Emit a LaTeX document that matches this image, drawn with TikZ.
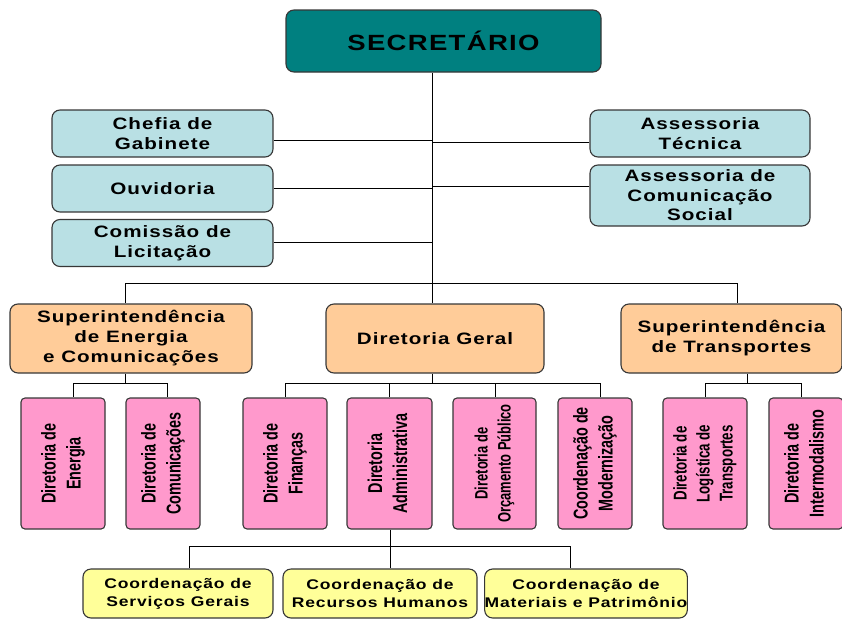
\documentclass[tikz,border=0pt]{standalone}
\usepackage{fontspec}
\newfontfamily\boxfont[FakeStretch=1.25,LetterSpace=6]{Liberation Sans}
\newfontfamily\pinkfont[FakeStretch=0.72]{Liberation Sans}

\definecolor{secteal}{RGB}{0,128,128}
\definecolor{staffblue}{RGB}{185,224,228}
\definecolor{supeorange}{RGB}{255,204,153}
\definecolor{dirpink}{RGB}{255,153,204}
\definecolor{coordyellow}{RGB}{255,255,153}
\definecolor{boxline}{RGB}{55,55,55}

% vertical (rotated) label for the pink boxes
\newcommand{\vlabel}[1]{\rotatebox{90}{\begin{tabular}{@{}c@{}}#1\end{tabular}}}

\begin{document}
\begin{tikzpicture}[x=1pt,y=-1pt,
    orgbox/.style={draw=boxline, line width=1.1pt, rounded corners=8pt, inner sep=0pt, align=center,
        font=\boxfont\bfseries\fontsize{16.5}{19.5}\selectfont},
    secbox/.style={orgbox, fill=secteal, minimum width=315pt, minimum height=62pt,
        font=\boxfont\bfseries\fontsize{22}{26}\selectfont},
    staffbox/.style={orgbox, fill=staffblue, minimum width=221pt, minimum height=47pt},
    supebox/.style={orgbox, fill=supeorange, minimum height=69pt,
        font=\boxfont\bfseries\fontsize{16.5}{20}\selectfont},
    dirbox/.style={draw=boxline, line width=1.1pt, rounded corners=4pt, inner sep=0pt, fill=dirpink,
        minimum width=84pt, minimum height=131pt, font=\pinkfont\bfseries\fontsize{20}{25}\selectfont},
    coordbox/.style={orgbox, fill=coordyellow, minimum height=49pt,
        font=\boxfont\bfseries\fontsize{14}{18}\selectfont},
    conn/.style={line width=1pt, black}]

    \useasboundingbox (0,0) rectangle (842,621);

	% Secretary and staff
	\node[secbox] (sec) at (443.5,41) {SECRETÁRIO};
	\node[staffbox] (chefia) at (162.5,133.5) {Chefia de\\Gabinete};
	\node[staffbox] (ouvid) at (162.5,188.5) {Ouvidoria};
	\node[staffbox] (licit) at (162.5,243) {Comissão de\\Licitação};
	\node[staffbox, minimum width=220pt] (asstec) at (700,133.5) {Assessoria\\Técnica};
	\node[staffbox, minimum width=220pt, minimum height=61pt] (asscom) at (700,195.5) {Assessoria de\\Comunicação\\Social};

	% Second level
	\node[supebox, minimum width=242pt] (supEC) at (131,338.5) {Superintendência\\de Energia\\e Comunicações};
	\node[supebox, minimum width=218pt] (dirG) at (435,338.5) {Diretoria Geral};
	\node[supebox, minimum width=221pt] (supT) at (731.5,338.5) {Superintendência\\de Transportes};

	% Directorates
	\node[dirbox] (dEnergia) at (63,463.5) {\vlabel{Diretoria de\\Energia}};
	\node[dirbox, minimum width=74pt] (dComunic) at (163,463.5) {\vlabel{Diretoria de\\Comunicações}};
	\node[dirbox] (dFinanc) at (285,463.5) {\vlabel{Diretoria de\\Finanças}};
	\node[dirbox, minimum width=85pt] (dAdmin) at (389.5,463.5) {\vlabel{Diretoria\\Administrativa}};
	\node[dirbox, minimum width=83pt, font=\pinkfont\bfseries\fontsize{18}{23}\selectfont] (dOrcam) at (494.5,463.5) {\vlabel{Diretoria de\\Orçamento Público}};
	\node[dirbox, minimum width=74pt] (cModern) at (595,463.5) {\vlabel{Coordenação de\\Modernização}};
	\node[dirbox, font=\pinkfont\bfseries\fontsize{18.5}{23}\selectfont] (dLogist) at (705,463.5) {\vlabel{Diretoria de\\Logística de\\Transportes}};
	\node[dirbox, minimum width=74pt] (dInterm) at (806,463.5) {\vlabel{Diretoria de\\Intermodalismo}};

	% Coordinations
	\node[coordbox, minimum width=190pt] (cServ) at (178,593.5) {Coordenação de\\Serviços Gerais};
	\node[coordbox, minimum width=194pt] (cRH) at (380,593.5) {Coordenação de\\Recursos Humanos};
	\node[coordbox, minimum width=202pt] (cMat) at (586,593.5) {Coordenação de\\Materiais e Patrimônio};

	% Main spine
	\coordinate (spine) at (432,0);
	\draw[conn] (sec.south -| spine) -- (spine |- dirG.north);

	% Staff links
	\coordinate (lChefia) at (0,140);
	\coordinate (lOuvid) at (0,188);
	\coordinate (lLicit) at (0,242);
	\coordinate (lAssTec) at (0,142);
	\coordinate (lAssCom) at (0,186);
	\draw[conn] (chefia.east |- lChefia) -- (spine |- lChefia);
	\draw[conn] (ouvid.east |- lOuvid) -- (spine |- lOuvid);
	\draw[conn] (licit.east |- lLicit) -- (spine |- lLicit);
	\draw[conn] (asstec.west |- lAssTec) -- (spine |- lAssTec);
	\draw[conn] (asscom.west |- lAssCom) -- (spine |- lAssCom);

	% Second level bar
	\coordinate (jEC) at (125,283);
	\coordinate (jT) at (737,283);
	\draw[conn] (jEC) -- (jT);
	\draw[conn] (jEC) -- (jEC |- supEC.north);
	\draw[conn] (jT) -- (jT |- supT.north);

	% Energia e Comunicacoes
	\coordinate (dEn) at (73,383);
	\coordinate (dCo) at (167,383);
	\draw[conn] (supEC.south -| jEC) -- (jEC |- dEn);
	\draw[conn] (dEn) -- (dCo);
	\draw[conn] (dEn) -- (dEn |- dEnergia.north);
	\draw[conn] (dCo) -- (dCo |- dComunic.north);

	% Diretoria Geral
	\coordinate (dFi) at (285,383);
	\coordinate (dAd) at (389,383);
	\coordinate (dOr) at (495,383);
	\coordinate (dMo) at (600,383);
	\draw[conn] (dirG.south -| spine) -- (spine |- dFi);
	\draw[conn] (dFi) -- (dMo);
	\draw[conn] (dFi) -- (dFi |- dFinanc.north);
	\draw[conn] (dAd) -- (dAd |- dAdmin.north);
	\draw[conn] (dOr) -- (dOr |- dOrcam.north);
	\draw[conn] (dMo) -- (dMo |- cModern.north);

	% Transportes
	\coordinate (dLo) at (705,383);
	\coordinate (dIn) at (801,383);
	\coordinate (jT2) at (747,383);
	\draw[conn] (supT.south -| jT2) -- (jT2);
	\draw[conn] (dLo) -- (dIn);
	\draw[conn] (dLo) -- (dLo |- dLogist.north);
	\draw[conn] (dIn) -- (dIn |- dInterm.north);

	% Administrativa
	\coordinate (cSe) at (189,546);
	\coordinate (cRh) at (390,546);
	\coordinate (cMa) at (570,546);
	\draw[conn] (dAdmin.south -| cRh) -- (cRh);
	\draw[conn] (cSe) -- (cMa);
	\draw[conn] (cSe) -- (cSe |- cServ.north);
	\draw[conn] (cRh) -- (cRh |- cRH.north);
	\draw[conn] (cMa) -- (cMa |- cMat.north);

\end{tikzpicture}
\end{document}
